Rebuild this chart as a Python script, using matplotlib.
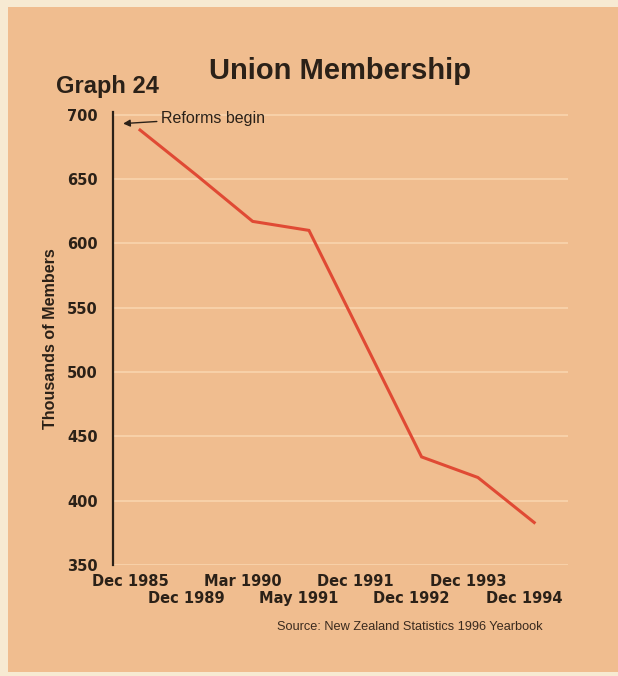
import matplotlib
matplotlib.use("Agg")
import matplotlib.pyplot as plt
import matplotlib.transforms as mtransforms
from matplotlib.patches import Rectangle

# Union membership (thousands), New Zealand
periods = ["Dec 1985", "Dec 1989", "Mar 1990", "May 1991",
           "Dec 1991", "Dec 1992", "Dec 1993", "Dec 1994"]
members = [688, 653, 617, 610, 522, 434, 418, 383]
y_ticks = [350, 400, 450, 500, 550, 600, 650, 700]

W, H = 618, 676
DPI = 100
fig = plt.figure(figsize=(W / DPI, H / DPI), dpi=DPI)
fig.patch.set_facecolor("#f7ead2")

paper = "#f0bd8f"
ink = "#2b2118"
font = "Liberation Sans"
tick_font = "DejaVu Sans"

# paper area
fig.patches.append(Rectangle((8 / W, 4 / H), 1 - 8 / W, 1 - 11 / H,
                             transform=fig.transFigure, facecolor=paper,
                             edgecolor="none", zorder=-5))

left, right, bottom, top = 113, 568, 565, 112
ax = fig.add_axes([left / W, 1 - bottom / H, (right - left) / W, (bottom - top) / H])
ax.set_facecolor("none")
ax.set_zorder(2)

x = list(range(len(periods)))
ax.plot(x, members, color="#e04a34", lw=2.2, solid_joinstyle="miter", zorder=3)

ax.set_xlim(-0.48, 7.6)
ax.set_ylim(350, 702)

for s in ["top", "right", "bottom"]:
    ax.spines[s].set_visible(False)
ax.spines["left"].set_color(ink)
ax.spines["left"].set_linewidth(1.6)

ax.set_yticks(y_ticks)
ax.set_yticklabels([str(v) for v in y_ticks], fontfamily=tick_font,
                   fontweight="bold", fontsize=10.5, color=ink)
ax.tick_params(axis="y", length=0, pad=11)
ax.yaxis.grid(True, color="#f8d3ab", lw=1.3)
ax.set_axisbelow(True)

# period labels staggered on two rows
ax.set_xticks(x[0::2])
ax.set_xticklabels(periods[0::2], fontfamily=tick_font, fontweight="bold",
                   fontsize=10.5, color=ink)
ax.set_xticks(x[1::2], minor=True)
ax.set_xticklabels(periods[1::2], minor=True, fontfamily=tick_font,
                   fontweight="bold", fontsize=10.5, color=ink)
ax.tick_params(axis="x", which="major", length=0, pad=6.5)
ax.tick_params(axis="x", which="minor", length=0, pad=18.5)
shift = mtransforms.ScaledTranslation(-10 / DPI, 0, fig.dpi_scale_trans)
for lab in ax.get_xticklabels() + ax.get_xticklabels(minor=True):
    lab.set_transform(lab.get_transform() + shift)

ax.set_ylabel("Thousands of Members", fontfamily=font, fontweight="bold",
              fontsize=11.6, color=ink, labelpad=6.5)

fig.text(340 / W, 1 - 71 / H, "Union Membership", fontfamily=font,
         fontweight="bold", fontsize=21, color=ink, ha="center", va="center")
fig.text(56 / W, 1 - 86 / H, "Graph 24", fontfamily=font,
         fontweight="bold", fontsize=17, color=ink, ha="left", va="center")

ax.annotate("Reforms begin", xy=(-0.3, 693), xycoords="data",
            xytext=(161 / W, 1 - 118 / H), textcoords="figure fraction",
            fontfamily=font, fontsize=11.5, color=ink, ha="left", va="center",
            arrowprops=dict(arrowstyle="-|>,head_length=0.35,head_width=0.18",
                            color=ink, lw=1.0, shrinkA=1, shrinkB=0))

fig.text(543 / W, 1 - 627 / H, "Source: New Zealand Statistics 1996 Yearbook",
         fontfamily=font, fontsize=9.2, color="#3a2a1e", ha="right", va="center")

fig.savefig("out.png", dpi=DPI, facecolor=fig.get_facecolor())
